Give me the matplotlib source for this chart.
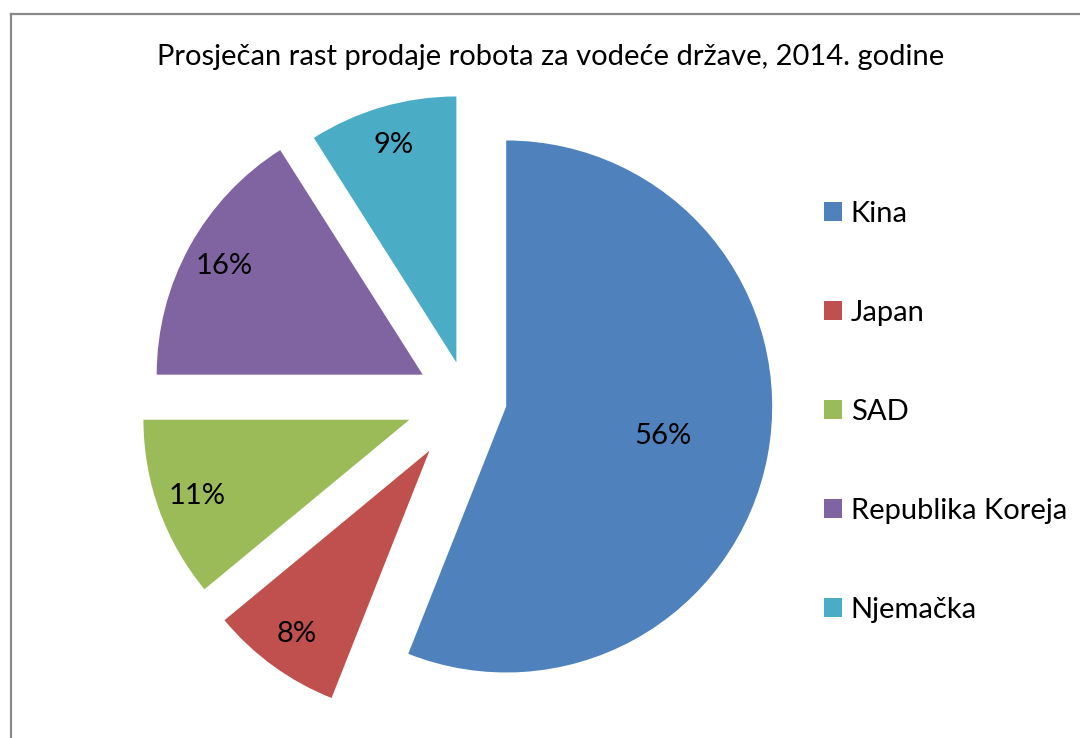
import matplotlib
matplotlib.use("Agg")
import matplotlib.pyplot as plt
from matplotlib.lines import Line2D
import numpy as np

# 2014 robot sales growth by country
countries = ["Kina", "Japan", "SAD", "Republika Koreja", "Njemačka"]
growth = [56, 8, 11, 16, 9]
colors = ["#4F81BD", "#C0504D", "#9BBB59", "#8064A2", "#4BACC6"]
explode_frac = [0.15, 0.24, 0.23, 0.19, 0.143]  # fraction of radius
title = "Prosječan rast prodaje robota za vodeće države, 2014. godine"

plt.rcParams['font.family'] = ['Lato', 'DejaVu Sans']

W, H = 1080, 738
R = 266
fig = plt.figure(figsize=(W / 100, H / 100), dpi=100)
ax = fig.add_axes([0, 0, 1, 1])

# pie explode is in data units, so scale by the radius
wedges, texts, autotexts = ax.pie(
    growth, colors=colors, explode=[e * R for e in explode_frac],
    startangle=90, counterclock=False,
    center=(467, H - 399), radius=R, autopct='%1.0f%%', pctdistance=0.85,
    textprops={'fontsize': 21, 'color': 'black'},
    wedgeprops={'linewidth': 0})

# the big slice has its label closer to the middle
w = wedges[0]
mid = np.deg2rad((w.theta1 + w.theta2) / 2)
autotexts[0].set_position((w.center[0] + 0.6 * w.r * np.cos(mid),
                           w.center[1] + 0.6 * w.r * np.sin(mid)))

ax.set_xlim(0, W)
ax.set_ylim(0, H)
ax.set_aspect('auto')
ax.axis('off')

fig.text(551 / W, 1 - 57 / H, title, ha='center', va='center', fontsize=21)

ax.legend(wedges, countries, loc='upper left', bbox_to_anchor=(824 / W, 1 - 201 / H),
          frameon=False, fontsize=21, handlelength=0.62, handleheight=0.62,
          handletextpad=0.3, labelspacing=2.5, borderpad=0, borderaxespad=0)

# chart frame (only top and left edges visible)
fig.add_artist(Line2D([11 / W, 11 / W], [0, 1 - 13.5 / H], transform=fig.transFigure,
                      color='#898989', lw=1.6))
fig.add_artist(Line2D([11 / W, 1], [1 - 13.5 / H, 1 - 13.5 / H], transform=fig.transFigure,
                      color='#898989', lw=1.6))

fig.savefig("out.png", dpi=100)
